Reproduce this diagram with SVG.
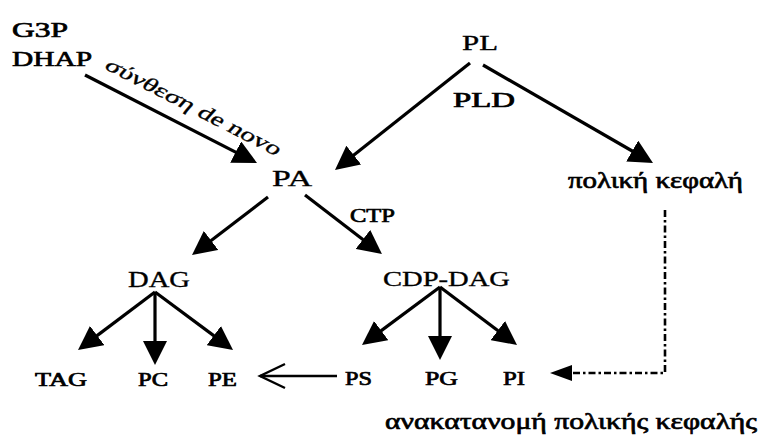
<svg xmlns="http://www.w3.org/2000/svg" width="760" height="436" viewBox="0 0 760 436">
<style>
text{font-family:"Liberation Serif","Times New Roman",serif;fill:#000;stroke:#000;stroke-width:0.35}
.b{stroke-width:0.7}
.lg{font-size:24px}
.md{font-size:22px}
.sm{font-size:19px}
.ar{stroke:#000;stroke-width:3.2;fill:none}
.dd{stroke:#000;stroke-width:2.6;fill:none;stroke-dasharray:7 3 2.5 3}
.op{stroke:#000;stroke-width:2.4;fill:none}
</style>
<defs>
<marker id="ah" markerUnits="userSpaceOnUse" viewBox="0 0 24 24" markerWidth="24" markerHeight="24" refX="18" refY="12" orient="auto">
<path d="M0,0 L24,12 L0,24 z" fill="#000"/>
</marker>
</defs>
<rect width="760" height="436" fill="#fff"/>
<g id="connectors">
<line class="ar" x1="85" y1="75" x2="251.7" y2="160.3" marker-end="url(#ah)"/>
<line class="ar" x1="470" y1="63" x2="339.7" y2="166.3" marker-end="url(#ah)"/>
<line class="ar" x1="483" y1="65" x2="647.8" y2="160" marker-end="url(#ah)"/>
<line class="ar" x1="268" y1="197" x2="196.8" y2="251.4" marker-end="url(#ah)"/>
<line class="ar" x1="305" y1="195" x2="377.2" y2="250.4" marker-end="url(#ah)"/>
<line class="ar" x1="155" y1="292" x2="82.8" y2="346.4" marker-end="url(#ah)"/>
<line class="ar" x1="155" y1="292" x2="155" y2="359" marker-end="url(#ah)"/>
<line class="ar" x1="155" y1="292" x2="228.2" y2="346.4" marker-end="url(#ah)"/>
<line class="ar" x1="440" y1="287" x2="366.8" y2="341.4" marker-end="url(#ah)"/>
<line class="ar" x1="440" y1="287" x2="440" y2="354" marker-end="url(#ah)"/>
<line class="ar" x1="440" y1="287" x2="512.2" y2="341.4" marker-end="url(#ah)"/>
<line class="op" x1="337" y1="376" x2="260" y2="376"/>
<polyline class="op" points="285,364 260,376 285,388"/>
<path class="dd" d="M665,210 L665,373 L570,373"/>
<polygon points="550,373 572,365 572,381" fill="#000"/>
</g>
<g id="g3p-dhap">
<text class="b md" x="12" y="37" textLength="56" lengthAdjust="spacingAndGlyphs">G3P</text>
<text class="b md" x="12" y="66" textLength="80" lengthAdjust="spacingAndGlyphs">DHAP</text>
</g>
<g id="label-denovo" transform="translate(103 68) rotate(27) skewX(-14)">
<text x="0" y="0" font-size="20" stroke-width="0.6" textLength="194" lengthAdjust="spacingAndGlyphs">σύνθεση de novo</text>
</g>
<g id="pl"><text class="md" x="462" y="50" textLength="36" lengthAdjust="spacingAndGlyphs">PL</text></g>
<g id="label-pld"><text class="b" font-size="20" x="453" y="107" textLength="62" lengthAdjust="spacingAndGlyphs">PLD</text></g>
<g id="polar-head"><text class="b lg" x="568" y="188" textLength="175" lengthAdjust="spacingAndGlyphs">πολική κεφαλή</text></g>
<g id="pa"><text class="lg" x="272" y="186" textLength="40" lengthAdjust="spacingAndGlyphs">PA</text></g>
<g id="label-ctp"><text class="b sm" x="350" y="222" textLength="45" lengthAdjust="spacingAndGlyphs">CTP</text></g>
<g id="dag"><text class="lg" x="128" y="287" textLength="62" lengthAdjust="spacingAndGlyphs">DAG</text></g>
<g id="cdp-dag"><text class="md" x="383" y="286" textLength="127" lengthAdjust="spacingAndGlyphs">CDP-DAG</text></g>
<g id="tag"><text class="b sm" x="35" y="386" textLength="52" lengthAdjust="spacingAndGlyphs">TAG</text></g>
<g id="pc"><text class="b sm" x="138" y="386" textLength="30" lengthAdjust="spacingAndGlyphs">PC</text></g>
<g id="pe"><text class="b sm" x="208" y="386" textLength="29" lengthAdjust="spacingAndGlyphs">PE</text></g>
<g id="ps"><text class="b sm" x="345" y="385" textLength="27" lengthAdjust="spacingAndGlyphs">PS</text></g>
<g id="pg"><text class="b sm" x="425" y="385" textLength="33" lengthAdjust="spacingAndGlyphs">PG</text></g>
<g id="pi"><text class="b sm" x="503" y="385" textLength="22" lengthAdjust="spacingAndGlyphs">PI</text></g>
<g id="label-redistribution"><text class="b lg" x="385" y="429" textLength="372" lengthAdjust="spacingAndGlyphs">ανακατανομή πολικής κεφαλής</text></g>
</svg>
